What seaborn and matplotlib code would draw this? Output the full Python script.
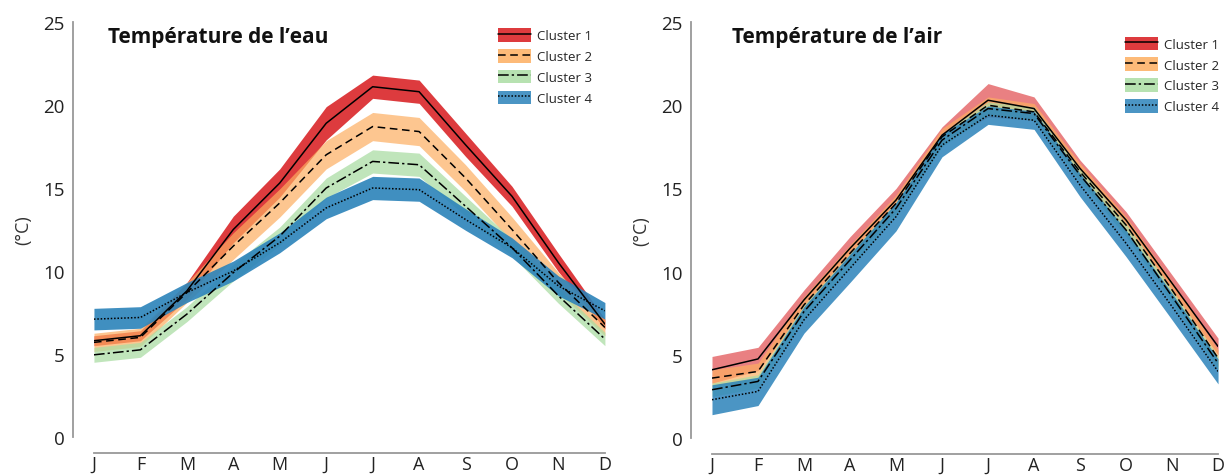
import pandas as pd
import numpy as np
import matplotlib
matplotlib.use('Agg')
import matplotlib.pyplot as plt
import seaborn as sns
from matplotlib.patches import Patch
from matplotlib.lines import Line2D

# months and clusters
months = ['J', 'F', 'M', 'A', 'M', 'J', 'J', 'A', 'S', 'O', 'N', 'D']
clusters = ['Cluster 1', 'Cluster 2', 'Cluster 3', 'Cluster 4']

# water temperature (mean line and half-width of the band)
eau_c1 = [5.8, 6.1, 8.8, 12.5, 15.3, 18.9, 21.1, 20.8, 17.6, 14.5, 10.5, 6.8]
eau_c2 = [5.7, 6.0, 8.7, 11.5, 14.1, 17.0, 18.7, 18.4, 15.6, 12.5, 9.3, 6.6]
eau_c3 = [4.95, 5.25, 7.4, 9.9, 12.1, 15.0, 16.6, 16.4, 13.9, 11.4, 8.5, 5.9]
eau_c4 = [7.1, 7.2, 8.7, 10.0, 11.7, 13.8, 15.0, 14.9, 13.1, 11.4, 9.1, 7.6]
eau_s1 = [0.3, 0.3, 0.5, 0.8, 0.85, 1.0, 0.7, 0.7, 0.7, 0.6, 0.55, 0.3]
eau_s2 = [0.55, 0.55, 0.6, 0.8, 0.85, 0.85, 0.85, 0.85, 0.8, 0.75, 0.6, 0.5]
eau_s3 = [0.45, 0.45, 0.45, 0.5, 0.55, 0.6, 0.7, 0.7, 0.6, 0.5, 0.45, 0.4]
eau_s4 = [0.65, 0.65, 0.6, 0.6, 0.6, 0.65, 0.7, 0.7, 0.65, 0.6, 0.6, 0.5]

# air temperature
air_c1 = [4.1, 4.75, 8.3, 11.4, 14.3, 18.2, 20.3, 19.8, 16.2, 13.1, 9.3, 5.5]
air_c2 = [3.6, 4.0, 8.0, 11.1, 14.1, 18.1, 20.0, 19.6, 16.0, 12.8, 8.9, 4.8]
air_c3 = [2.9, 3.4, 7.6, 10.7, 13.8, 17.9, 19.8, 19.5, 15.8, 12.5, 8.5, 4.5]
air_c4 = [2.3, 2.8, 7.1, 10.2, 13.3, 17.6, 19.4, 19.1, 15.2, 11.7, 7.9, 4.0]
air_s1 = [0.8, 0.7, 0.6, 0.7, 0.7, 0.5, 1.0, 0.7, 0.5, 0.5, 0.5, 0.5]
air_s2 = [0.5, 0.5, 0.5, 0.5, 0.5, 0.5, 0.5, 0.5, 0.5, 0.5, 0.5, 0.5]
air_s3 = [0.4, 0.4, 0.4, 0.4, 0.4, 0.4, 0.4, 0.4, 0.4, 0.4, 0.4, 0.4]
air_s4 = [0.9, 0.85, 0.8, 0.85, 0.85, 0.7, 0.55, 0.55, 0.7, 0.8, 0.8, 0.75]

band_colors = ['#d7191c', '#fdae61', '#abdda4', '#2b83ba']
dashes = {'Cluster 1': '', 'Cluster 2': (5, 3), 'Cluster 3': (7, 2, 1.5, 2), 'Cluster 4': (1, 1.2)}

sns.set_style('white')
plt.rcParams['font.family'] = ['Open Sans', 'DejaVu Sans']


def make_df(means):
    rows = []
    for c, vals in zip(clusters, means):
        for i, v in enumerate(vals):
            rows.append({'month': i, 'temp': v, 'cluster': c})
    return pd.DataFrame(rows)


def draw_panel(ax, means, spreads, title, alphas, title_x, leg_anchor):
    x = np.arange(len(months))
    for m, s, col, a in zip(means, spreads, band_colors, alphas):
        m = np.array(m)
        s = np.array(s)
        ax.fill_between(x, m - s, m + s, color=col, alpha=a, lw=0)
    df = make_df(means)
    sns.lineplot(data=df, x='month', y='temp', style='cluster', dashes=dashes,
                 color='black', lw=1.1, legend=False, ax=ax)
    ax.set_xlim(0, 11)
    ax.set_ylim(0, 25)
    ax.set_xticks(x)
    ax.set_xticklabels(months)
    ax.set_yticks([0, 5, 10, 15, 20, 25])
    ax.set_xlabel('')
    ax.set_ylabel('(°C)', fontsize=13, color='#333333', labelpad=8)
    ax.tick_params(axis='y', direction='out', length=4, width=1.2, color='#999999',
                   labelsize=13.5, labelcolor='#222222', pad=2)
    ax.tick_params(axis='x', direction='in', length=4, width=1.2, color='#999999',
                   labelsize=13, labelcolor='#222222', pad=1.5)
    sns.despine(ax=ax, offset={'left': 15, 'bottom': 11.5}, trim=True)
    for sp in ['left', 'bottom']:
        ax.spines[sp].set_color('#999999')
        ax.spines[sp].set_linewidth(1.3)
    ax.text(title_x, 0.952, title, transform=ax.transAxes, fontsize=15,
            fontweight='bold', va='baseline', ha='left', color='#111111')
    handles = []
    for c, col in zip(clusters, band_colors):
        p = Patch(facecolor=col, edgecolor='none', alpha=0.85)
        ln = Line2D([], [], color='black', lw=1.1, dashes=dashes[c] if dashes[c] else (None, None))
        handles.append((p, ln))
    ax.legend(handles, clusters, loc='upper left', bbox_to_anchor=leg_anchor,
              frameon=False, fontsize=9.5, handlelength=2.5, handleheight=1.2,
              labelspacing=0.5, handletextpad=0.45, borderpad=0, borderaxespad=0)


fig = plt.figure(figsize=(12.28, 4.77), dpi=100)
ax1 = fig.add_axes([0.0765, 0.0818, 0.4161, 0.870])
ax2 = fig.add_axes([0.5798, 0.0797, 0.4121, 0.872])

draw_panel(ax1, [eau_c1, eau_c2, eau_c3, eau_c4], [eau_s1, eau_s2, eau_s3, eau_s4],
           'Température de l’eau', [0.85, 0.7, 0.75, 0.9], 0.027, (0.79, 0.985))
draw_panel(ax2, [air_c1, air_c2, air_c3, air_c4], [air_s1, air_s2, air_s3, air_s4],
           'Température de l’air', [0.55, 0.7, 0.7, 0.85], 0.04, (0.816, 0.965))

plt.savefig('out.png', dpi=100)
